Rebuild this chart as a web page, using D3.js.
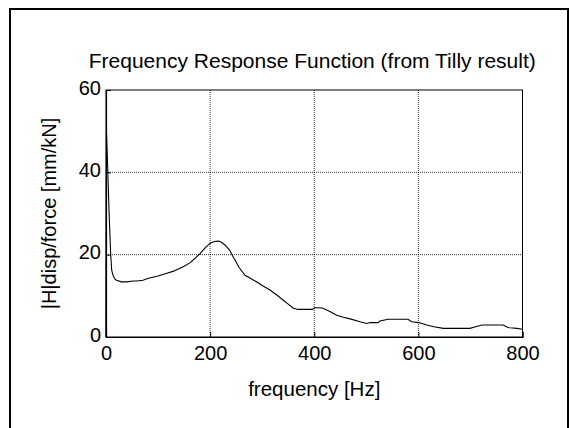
<!DOCTYPE html>
<html>
<head>
<meta charset="utf-8">
<script src="https://cdn.jsdelivr.net/npm/d3@7"></script>
<style>
  body { margin: 0; background: #fff; }
  svg text { font-family: "Liberation Sans", Arial, sans-serif; fill: #000; }
</style>
</head>
<body>
<svg id="chart"></svg>
<script>
const width = 570,
      height = 428;

const MARGIN = { LEFT: 106, RIGHT: 47.5, TOP: 90, BOTTOM: 91 };

// frequency [Hz] and |H| [mm/kN]
const freq = [0, 1, 3, 6, 9, 11, 14, 17, 20, 30, 40, 52, 60, 71, 80, 90, 100, 117, 130, 142, 150, 161, 170, 181, 190, 200, 208, 216, 222, 229, 238, 244, 248, 255, 267, 278, 289, 300, 315, 328, 340, 350, 360, 369, 380, 396, 401, 410, 417, 430, 443, 456, 469, 488, 501, 507, 523, 526, 542, 560, 580, 587, 601, 616, 630, 648, 670, 699, 710, 722, 740, 763, 772, 789, 800];
const mag  = [0, 49.5, 42, 30, 20, 16.2, 14.8, 14.1, 13.8, 13.4, 13.4, 13.6, 13.6, 13.8, 14.2, 14.5, 14.8, 15.5, 16.0, 16.7, 17.2, 18.0, 19.0, 20.3, 21.6, 22.8, 23.2, 23.3, 23.0, 22.3, 21.0, 19.5, 18.7, 17.0, 15.0, 14.2, 13.4, 12.5, 11.4, 10.2, 9.0, 8.0, 7.0, 6.7, 6.7, 6.7, 7.1, 7.1, 7.0, 6.2, 5.3, 4.8, 4.4, 3.7, 3.3, 3.5, 3.5, 3.9, 4.3, 4.3, 4.3, 3.7, 3.5, 2.9, 2.5, 2.1, 2.1, 2.1, 2.5, 2.9, 2.9, 2.9, 2.3, 2.1, 1.9];

const xTicks = [0, 200, 400, 600, 800];
const yTicks = [0, 20, 40, 60];

const FONT = 20;

const svg = d3.select("#chart")
    .attr("width", width)
    .attr("height", height);

// outer figure border
svg.append("rect")
    .attr("x", 10).attr("y", 9)
    .attr("width", 558).attr("height", 440)
    .attr("fill", "none")
    .attr("stroke", "#000")
    .attr("stroke-width", 2);

const x = d3.scaleLinear()
    .domain([0, 800])
    .range([MARGIN.LEFT, width - MARGIN.RIGHT]);

const y = d3.scaleLinear()
    .domain([0, 60])
    .range([height - MARGIN.BOTTOM, MARGIN.TOP]);

const g = svg.append("g");

// dotted grid
g.selectAll(".gx")
    .data(xTicks.slice(1, -1))
    .enter().append("line")
    .attr("x1", d => x(d)).attr("x2", d => x(d))
    .attr("y1", y(0)).attr("y2", y(60))
    .attr("stroke", "#000")
    .attr("stroke-width", 0.8)
    .attr("stroke-dasharray", "1,1");

g.selectAll(".gy")
    .data(yTicks.slice(1, -1))
    .enter().append("line")
    .attr("x1", x(0)).attr("x2", x(800))
    .attr("y1", d => y(d)).attr("y2", d => y(d))
    .attr("stroke", "#000")
    .attr("stroke-width", 0.8)
    .attr("stroke-dasharray", "1,1");

// box
g.append("rect")
    .attr("x", x(0)).attr("y", y(60))
    .attr("width", x(800) - x(0))
    .attr("height", y(0) - y(60))
    .attr("fill", "none")
    .attr("stroke", "#000")
    .attr("stroke-width", 1);

// axes, ticks pointing inward
const xAxis = g.append("g")
    .attr("transform", `translate(0,${y(0)})`)
    .call(d3.axisBottom(x).tickValues(xTicks).tickSize(-5).tickPadding(9));

const yAxis = g.append("g")
    .attr("transform", `translate(${x(0)},0)`)
    .call(d3.axisLeft(y).tickValues(yTicks).tickSize(-5).tickPadding(5));

[xAxis, yAxis].forEach(a => {
    a.select(".domain").attr("stroke", "#000").attr("stroke-width", 1.2);
    a.selectAll(".tick line").attr("stroke", "#000");
    a.selectAll("text")
        .attr("font-family", "Liberation Sans, Arial, sans-serif")
        .attr("font-size", FONT);
});
yAxis.selectAll("text").attr("dy", "0.2em");

// the curve
const line = d3.line()
    .x((d, i) => x(freq[i]))
    .y(d => y(d));

g.append("path")
    .datum(mag)
    .attr("d", line)
    .attr("fill", "none")
    .attr("stroke", "#000")
    .attr("stroke-width", 1.1);

// texts
svg.append("text")
    .attr("x", (x(0) + x(800)) / 2 - 2)
    .attr("y", 68)
    .attr("text-anchor", "middle")
    .attr("font-size", 21)
    .text("Frequency Response Function (from Tilly result)");

svg.append("text")
    .attr("x", (x(0) + x(800)) / 2)
    .attr("y", 396)
    .attr("text-anchor", "middle")
    .attr("font-size", 20.5)
    .text("frequency [Hz]");

svg.append("text")
    .attr("transform", `translate(56,${(y(0) + y(60)) / 2}) rotate(-90)`)
    .attr("text-anchor", "middle")
    .attr("font-size", FONT)
    .text("|H|disp/force [mm/kN]");
</script>
</body>
</html>
